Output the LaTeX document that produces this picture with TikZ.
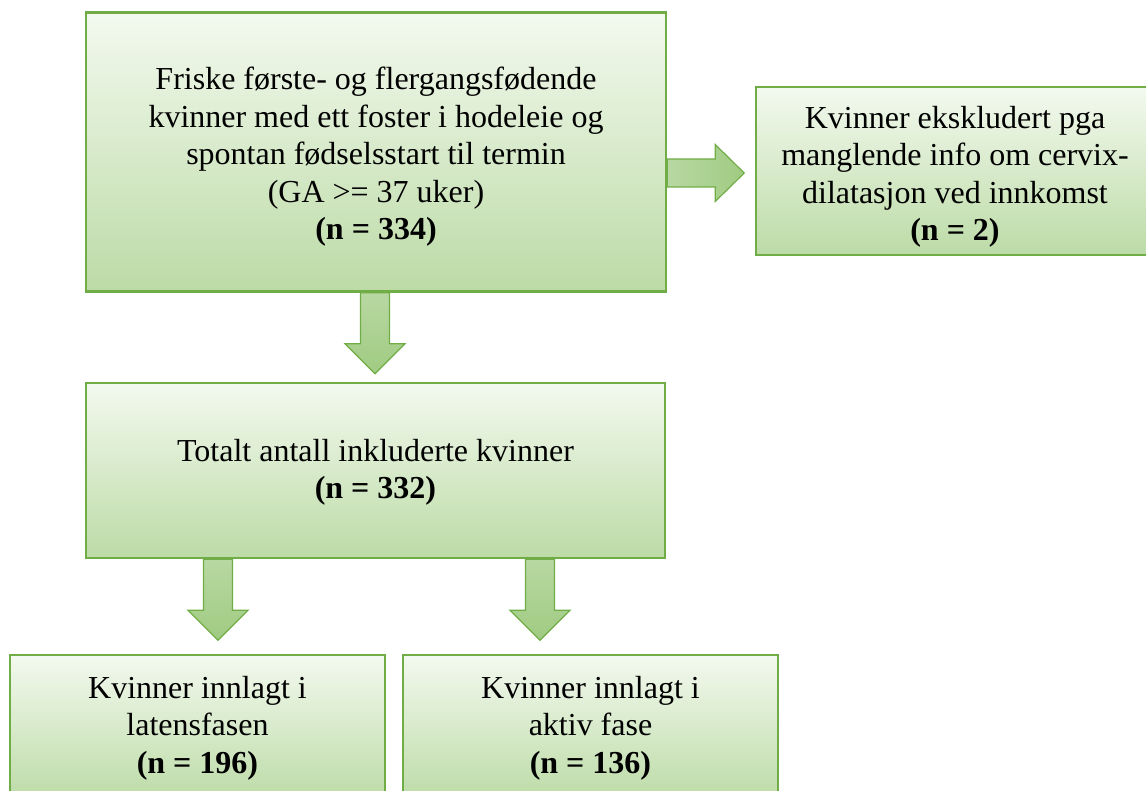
\documentclass[tikz,border=0pt]{standalone}
\usepackage{fontspec}
\setmainfont{Liberation Serif}
\definecolor{boxline}{RGB}{112,173,71}
\definecolor{boxtop}{RGB}{243,249,239}
\definecolor{boxbot}{RGB}{188,219,166}
\definecolor{arrowlight}{RGB}{184,216,163}
\definecolor{arrowdark}{RGB}{160,203,129}
\tikzset{
	flowbox/.style = {draw = boxline, line width = 2.5pt, top color = boxtop, bottom color = boxbot, inner sep = 0pt},
	flowtext/.style = {align = center, font = \fontsize{32}{37.5}\selectfont},
	blockarrow/.style = {draw = boxline, line width = 1.2pt, line join = miter}
}
\begin{document}
\begin{tikzpicture}[x = 1pt, y = -1pt]
	\useasboundingbox (0, 0) rectangle (1146, 791);
	\clip (0, 0) rectangle (1146, 791);
	\foreach \name/\x/\y/\w/\h in {friske/376/152/580/279, ekskl/955/171/398/168, totalt/375.5/470.5/579/175, latens/197.5/728/375/146, aktiv/590.5/728/375/146}{
		\node[flowbox, minimum width = \w, minimum height = \h] (\name) at (\x, \y) {};}
	\node[flowtext, yshift = -5pt] at (friske) {Friske første- og flergangsfødende\\kvinner med ett foster i hodeleie og\\spontan fødselsstart til termin\\(GA >= 37 uker)\\\textbf{(n = 334)}};
	\node[flowtext, yshift = -6pt] at (ekskl) {Kvinner ekskludert pga\\manglende info om cervix-\\dilatasjon ved innkomst\\\textbf{(n = 2)}};
	\node[flowtext, yshift = -2pt] at (totalt) {Totalt antall inkluderte kvinner\\\textbf{(n = 332)}};
	\node[flowtext] at (latens) {Kvinner innlagt i\\latensfasen\\\textbf{(n = 196)}};
	\node[flowtext] at (aktiv) {Kvinner innlagt i\\aktiv fase\\\textbf{(n = 136)}};
	\foreach \from/\x in {friske.south/375, totalt.south/218, totalt.south/540}{
		\draw[blockarrow, top color = arrowlight, bottom color = arrowdark] (\x, 0 |- \from) ++(-14.5, 0) -- ++(29, 0) -- ++(0, 51) -- ++(15.5, 0) -- ++(-30, 30) -- ++(-30, -30) -- ++(15.5, 0) -- cycle;}
	\draw[blockarrow, left color = arrowlight, right color = arrowdark] (friske.east |- 0, 173) ++(0, -14) -- ++(48, 0) -- ++(0, -14.5) -- ++(29, 28.5) -- ++(-29, 28.5) -- ++(0, -14.5) -- ++(-48, 0) -- cycle;
\end{tikzpicture}
\end{document}
